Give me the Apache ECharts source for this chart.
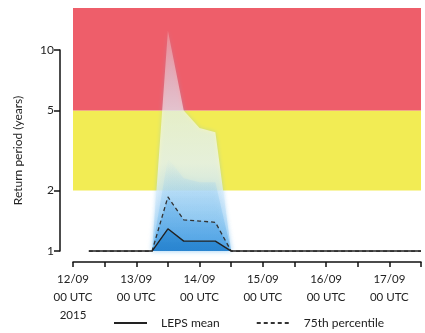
<!DOCTYPE html>
<html>
<head>
<meta charset="utf-8">
<script src="https://cdn.jsdelivr.net/npm/echarts@6/dist/echarts.min.js"></script>
<style>
  html, body { margin: 0; padding: 0; background: #fff; }
  #chart { width: 425px; height: 333px; }
</style>
</head>
<body>
<div id="chart"></div>
<script>
// forecast times (UTC)
const times = [
  "2015-09-12T06:00Z", "2015-09-13T06:00Z", "2015-09-13T12:00Z", "2015-09-13T18:00Z",
  "2015-09-14T00:00Z", "2015-09-14T06:00Z", "2015-09-14T12:00Z", "2015-09-17T12:00Z",
];
// return period (years)
const lepsMean = [1, 1, 1.29, 1.12, 1.12, 1.12, 1, 1];
const pct75 = [1, 1, 1.86, 1.43, 1.41, 1.39, 1, 1];
const pct90 = [1, 1, 2.9, 2.3, 2.2, 2.2, 1, 1];
const ensMax = [1, 1, 12.5, 5.0, 4.1, 3.9, 1, 1];

const yTicks = [1, 2, 5, 10];
const bands = [
  { from: 2, to: 5, color: "#f2ec54" },
  { from: 5, to: 16.2, color: "#ee5e6a" },
];

const xMin = Date.UTC(2015, 8, 12);
const xMax = Date.UTC(2015, 8, 17, 12);
const yMin = 0.882;
const yMax = 16.2;
const font = "Lato";

const ts = times.map((t) => Date.parse(t));
const pairs = (vals) => vals.map((v, i) => [ts[i], v]);

const chart = echarts.init(document.getElementById("chart"), null, { renderer: "canvas" });

const grad = (stops) => ({
  type: "linear", x: 0, y: 0, x2: 0, y2: 1,
  colorStops: stops.map(([o, c]) => ({ offset: o, color: c })),
});

const areaSeries = (name, vals, fill, z, blur) => ({
  name,
  type: "line",
  data: pairs(vals),
  symbol: "none",
  lineStyle: { width: 0 },
  areaStyle: { origin: 1, color: fill, shadowBlur: blur || 0, shadowColor: "rgba(110,185,238,0.6)" },
  z,
  silent: true,
});

const option = {
  animation: false,
  grid: [
    { left: 73, right: 4, top: 8, bottom: 71 },
    { left: 60, right: 4, top: 50, bottom: 82 },
  ],
  xAxis: [
    {
      type: "value",
      gridIndex: 0,
      min: xMin,
      max: xMax,
      interval: 12 * 3600 * 1000,
      splitLine: { show: false },
      axisLine: { lineStyle: { color: "#111", width: 1.5 } },
      axisTick: { length: 5, lineStyle: { color: "#111", width: 1.5 } },
      axisLabel: {
        margin: 8,
        color: "#222",
        fontFamily: font,
        fontSize: 11.5,
        lineHeight: 18,
        showMaxLabel: true,
        formatter: (v) => {
          const d = new Date(v);
          if (d.getUTCHours() !== 0) return "";
          const dd = String(d.getUTCDate()).padStart(2, "0");
          const mm = String(d.getUTCMonth() + 1).padStart(2, "0");
          let s = dd + "/" + mm + "\n00 UTC";
          if (v === xMin) s += "\n" + d.getUTCFullYear();
          return s;
        },
      },
    },
    { type: "value", gridIndex: 1, show: false, min: 0, max: 1 },
  ],
  yAxis: [
    { type: "log", gridIndex: 0, min: yMin, max: yMax, show: false },
    {
      type: "value",
      gridIndex: 1,
      min: 0,
      max: 1,
      name: "Return period (years)",
      nameLocation: "middle",
      nameGap: 36,
      nameTextStyle: { color: "#222", fontFamily: font, fontSize: 12 },
      splitLine: { show: false },
      axisLine: { show: true, lineStyle: { color: "#111", width: 1.5 } },
      axisTick: {
        show: true,
        length: 6,
        lineStyle: { color: "#111", width: 1.5 },
        customValues: yTicks.map((t) => Math.log10(t)),
      },
      axisLabel: {
        margin: 6,
        color: "#222",
        fontFamily: font,
        fontSize: 12,
        customValues: yTicks.map((t) => Math.log10(t)),
        formatter: (v) => String(Math.round(Math.pow(10, v))),
      },
    },
  ],
  legend: {
    left: 108,
    top: 312,
    itemWidth: 33,
    itemHeight: 12,
    itemGap: 36,
    itemStyle: { opacity: 0 },
    textStyle: { color: "#222", fontFamily: font, fontSize: 12, padding: [0, 0, 0, 9] },
    data: ["LEPS mean", "75th percentile"],
  },
  series: [
    {
      name: "bands",
      type: "line",
      data: [],
      silent: true,
      z: 0,
      markArea: {
        silent: true,
        itemStyle: { opacity: 1 },
        data: bands.map((b) => [
          { yAxis: b.from, itemStyle: { color: b.color } },
          { yAxis: b.to },
        ]),
      },
    },
    areaSeries("max", ensMax, grad([
      [0, "rgba(255,255,255,0.35)"],
      [0.37, "rgba(255,255,255,0.78)"],
      [0.6, "rgba(250,252,255,0.94)"],
      [0.72, "rgba(222,239,252,1)"],
      [1, "rgba(140,200,242,1)"],
    ]), 2, 4),
    areaSeries("p90", pct90, grad([
      [0, "rgba(170,215,245,0)"],
      [0.4, "rgba(140,200,240,0.45)"],
      [1, "rgba(90,170,232,0.85)"],
    ]), 3, 6),
    areaSeries("p75 fill", pct75, grad([
      [0, "rgba(95,172,232,0.6)"],
      [1, "rgba(55,148,224,0.9)"],
    ]), 4),
    areaSeries("mean fill", lepsMean, grad([
      [0, "#2a8ad3"],
      [1, "#1a78c8"],
    ]), 5),
    {
      name: "75th percentile",
      type: "line",
      data: pairs(pct75),
      symbol: "none",
      lineStyle: { color: "#333", width: 1.3, type: [4, 3] },
      z: 6,
    },
    {
      name: "LEPS mean",
      type: "line",
      data: pairs(lepsMean),
      symbol: "none",
      lineStyle: { color: "#222", width: 1.4 },
      z: 7,
    },
  ],
};

chart.setOption(option);
window.addEventListener("resize", () => chart.resize());
</script>
</body>
</html>
